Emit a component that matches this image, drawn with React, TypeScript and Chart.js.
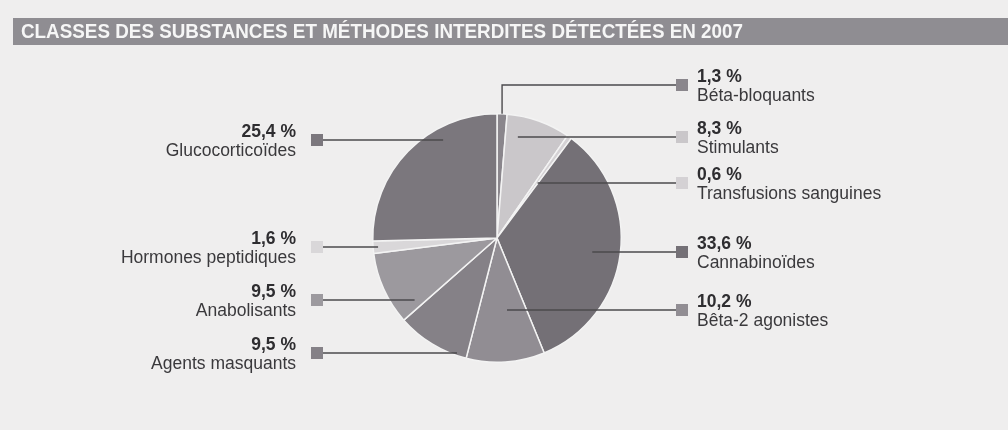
import React, { useEffect, useRef } from "react";
import { Chart, registerables } from "chart.js";

Chart.register(...registerables);

const TITLE = "CLASSES DES SUBSTANCES ET MÉTHODES INTERDITES DÉTECTÉES EN 2007";

const CATEGORIES = [
  "Béta-bloquants",
  "Stimulants",
  "Transfusions sanguines",
  "Cannabinoïdes",
  "Bêta-2 agonistes",
  "Agents masquants",
  "Anabolisants",
  "Hormones peptidiques",
  "Glucocorticoïdes",
];

const VALUES = [1.3, 8.3, 0.6, 33.6, 10.2, 9.5, 9.5, 1.6, 25.4];

const COLORS = [
  "#8a868c",
  "#cac7ca",
  "#d4d1d4",
  "#747076",
  "#918d93",
  "#858187",
  "#9c999e",
  "#d9d7d9",
  "#7b777d",
];

// label layout (annotation positions, not data)
const LABEL_LINE_Y = [85, 137, 183, 252, 310, 353, 300, 247, 140];
const LEADER_REACH = [1, 0.83, 0.55, 0.775, 0.585, 0.98, 0.83, 0.96, 0.9];
const LEADER_ELBOW = [true, false, false, false, false, false, false, false, false];

const RIGHT_SQUARE_X = 676;
const RIGHT_TEXT_X = 697;
const LEFT_SQUARE_X = 311;
const LEFT_TEXT_X = 296;
const SQ = 12;

const fmt = (v: number) => v.toFixed(1).replace(".", ",") + " %";

const labelsPlugin = {
  id: "labelsPlugin",
  beforeDraw(chart: any) {
    const ctx = chart.ctx;
    ctx.save();
    ctx.fillStyle = "#efeeee";
    ctx.fillRect(0, 0, chart.width, chart.height);
    // title bar
    ctx.fillStyle = "#8f8d92";
    ctx.fillRect(13, 18, chart.width - 13, 27);
    ctx.fillStyle = "#f6f6f6";
    ctx.font = "bold 19.5px 'Liberation Sans', Arial, sans-serif";
    ctx.textBaseline = "alphabetic";
    const w = ctx.measureText(TITLE).width;
    const target = 722;
    ctx.translate(21, 38);
    ctx.scale(target / w, 1);
    ctx.fillText(TITLE, 0, 0);
    ctx.restore();
  },
  afterDraw(chart: any) {
    const ctx = chart.ctx;
    const meta = chart.getDatasetMeta(0);
    ctx.save();
    meta.data.forEach((arc: any, i: number) => {
      const p = arc.getProps(["x", "y", "startAngle", "endAngle", "outerRadius"], true);
      const mid = (p.startAngle + p.endAngle) / 2;
      const right = Math.cos(mid) >= 0;
      const ly = LABEL_LINE_Y[i];
      const sqX = right ? RIGHT_SQUARE_X : LEFT_SQUARE_X;
      // leader
      ctx.strokeStyle = "#4b4a4d";
      ctx.lineWidth = 1.4;
      ctx.beginPath();
      if (LEADER_ELBOW[i]) {
        const ex = p.x + Math.cos(mid) * p.outerRadius;
        const ey = p.y + Math.sin(mid) * p.outerRadius;
        ctx.moveTo(ex, ey);
        ctx.lineTo(ex, ly);
        ctx.lineTo(sqX, ly);
      } else {
        const dy = ly - p.y;
        const rr = LEADER_REACH[i] * p.outerRadius;
        const dx = Math.sqrt(Math.max(rr * rr - dy * dy, 0));
        const ex = p.x + (right ? dx : -dx);
        ctx.moveTo(ex, ly);
        ctx.lineTo(right ? sqX : sqX + SQ, ly);
      }
      ctx.stroke();
      // square
      ctx.fillStyle = COLORS[i];
      ctx.fillRect(sqX, ly - SQ / 2, SQ, SQ);
      // texts
      ctx.textBaseline = "alphabetic";
      ctx.textAlign = right ? "left" : "right";
      const tx = right ? RIGHT_TEXT_X : LEFT_TEXT_X;
      ctx.fillStyle = "#2e2d30";
      ctx.font = "bold 17.5px 'Liberation Sans', Arial, sans-serif";
      ctx.fillText(fmt(VALUES[i]), tx, ly - 3);
      ctx.fillStyle = "#3a393c";
      ctx.font = "17.5px 'Liberation Sans', Arial, sans-serif";
      ctx.fillText(CATEGORIES[i], tx, ly + 16);
    });
    ctx.restore();
  },
};

export default function App() {
  const ref = useRef<HTMLCanvasElement | null>(null);
  useEffect(() => {
    if (!ref.current) return;
    const chart = new Chart(ref.current, {
      type: "pie",
      data: {
        labels: CATEGORIES,
        datasets: [
          {
            data: VALUES,
            backgroundColor: COLORS,
            borderColor: "#f3f3f3",
            borderWidth: 1.5,
            hoverOffset: 0,
          },
        ],
      },
      options: {
        animation: false,
        responsive: false,
        maintainAspectRatio: false,
        events: [],
        layout: { padding: { top: 113, bottom: 67, left: 372, right: 386 } },
        plugins: {
          legend: { display: false },
          tooltip: { enabled: false },
          title: { display: false },
        },
      },
      plugins: [labelsPlugin],
    });
    return () => chart.destroy();
  }, []);
  return (
    <div style={{ position: "fixed", left: 0, top: 0, width: 1008, height: 430, background: "#efeeee" }}>
      <canvas ref={ref} width={1008} height={430} style={{ display: "block", width: 1008, height: 430 }} />
    </div>
  );
}
